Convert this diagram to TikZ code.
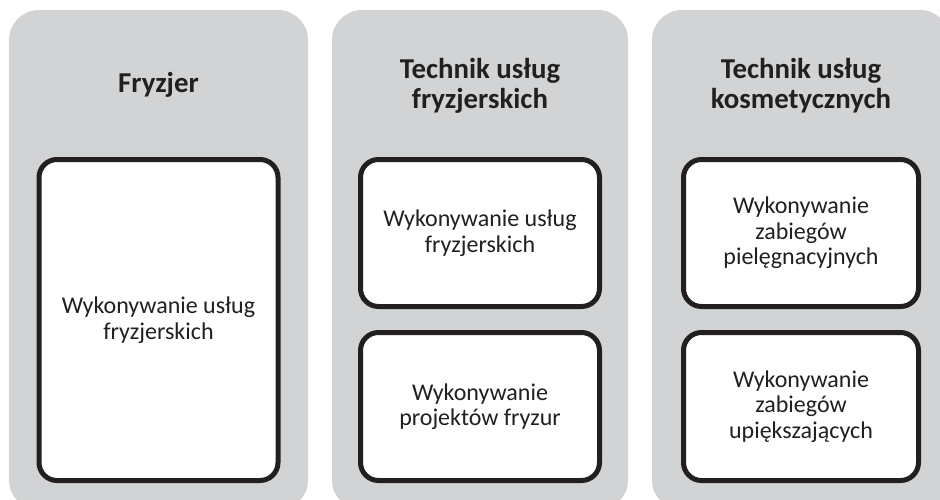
\documentclass[tikz,border=0pt]{standalone}
\usepackage{fontspec}
\setmainfont{Carlito}
\definecolor{panelgrey}{HTML}{D1D3D4}
\definecolor{ink}{HTML}{231F20}
\tikzset{
  panel/.style={fill=panelgrey, draw=none, rounded corners=30pt, minimum width=#1, minimum height=500pt, inner sep=0pt, outer sep=0pt},
  title/.style={text=ink, font=\bfseries\fontsize{28.8}{30}\selectfont, align=center},
  card/.style={fill=white, draw=ink, line width=5pt, rounded corners=18pt, minimum width=239pt, minimum height=#1, inner sep=0pt, outer sep=0pt, text=ink, font=\fontsize{24}{25.5}\selectfont, align=center}
}
\begin{document}
\begin{tikzpicture}[x=1pt,y=-1pt]
\useasboundingbox (0,0) rectangle (940,499);
\clip (0,0) rectangle (940,499);
\node[panel=299pt] (p1) at (158.5,260) {};
\node[panel=296pt] (p2) at (480,260) {};
\node[panel=298pt] (p3) at (801,260) {};
\node[title] (t1) at (158.5,85) {Fryzjer};
\node[title] (t2) at (480,86) {Technik usług\\fryzjerskich};
\node[title] (t3) at (801,86) {Technik usług\\kosmetycznych};
\node[card=321pt] (b1) at (158.5,320) {Wykonywanie usług\\fryzjerskich};
\node[card=147pt] (b2) at (480,233) {Wykonywanie usług\\fryzjerskich};
\node[card=148pt] (b3) at (480,406.5) {Wykonywanie\\projektów fryzur};
\node[card=147pt, minimum width=235pt] (b4) at (801,233) {Wykonywanie\\zabiegów\\pielęgnacyjnych};
\node[card=148pt, minimum width=235pt] (b5) at (801,406.5) {Wykonywanie\\zabiegów\\upiększających};
\end{tikzpicture}
\end{document}
